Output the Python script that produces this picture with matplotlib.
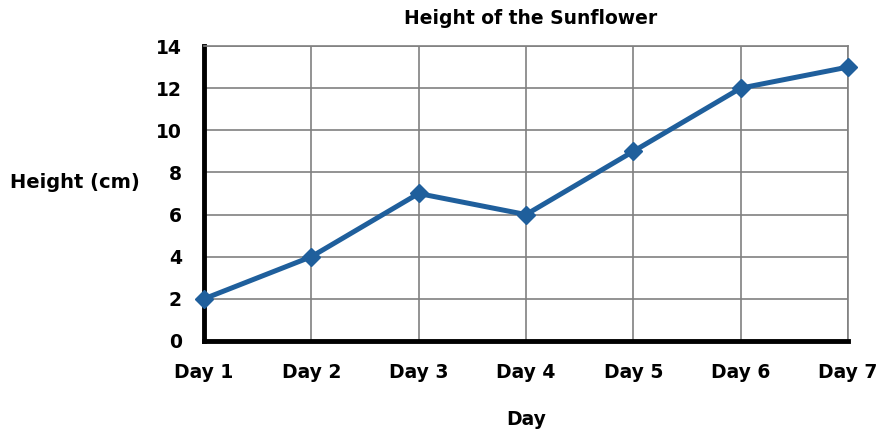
import matplotlib.pyplot as plt

days = ["Day 1", "Day 2", "Day 3", "Day 4", "Day 5", "Day 6", "Day 7"]
heights = [2, 4, 7, 6, 9, 12, 13]
y_ticks = [0, 2, 4, 6, 8, 10, 12, 14]

plt.rcParams['font.family'] = ['DejaVu Sans']
plt.rcParams['font.weight'] = 'bold'

fig = plt.figure(figsize=(8.8, 4.34), dpi=100)
ax = fig.add_axes([0.2318, 0.2143, 0.7318, 0.6797])

x = list(range(len(days)))
ax.plot(x, heights, color='#1f5f9c', linewidth=3.6, marker='D',
        markersize=9, zorder=3, clip_on=False)

ax.set_xlim(0, len(days) - 1)
ax.set_ylim(0, 14)
ax.set_xticks(x)
ax.set_xticklabels(days)
ax.set_yticks(y_ticks)
ax.grid(True, color='#808080', linewidth=1.2)
ax.set_axisbelow(True)

for s in ['top', 'right']:
    ax.spines[s].set_color('#808080')
    ax.spines[s].set_linewidth(1.2)
for s in ['left', 'bottom']:
    ax.spines[s].set_color('black')
    ax.spines[s].set_linewidth(3.5)
    ax.spines[s].set_zorder(2.5)

ax.tick_params(axis='both', length=0, labelsize=13.5)
ax.tick_params(axis='x', pad=16)
ax.tick_params(axis='y', pad=16)
for lbl in ax.get_xticklabels() + ax.get_yticklabels():
    lbl.set_fontweight('bold')

# title placed in figure coords so it sits near the top edge
fig.text(531 / 880, 1 - 18 / 434, "Height of the Sunflower", fontsize=13.5,
         fontweight='bold', ha='center', va='center')
ax.set_xlabel("Day", fontsize=13.5, fontweight='bold', labelpad=20)
fig.text(0.085, 1 - 183 / 434, "Height (cm)", fontsize=14, fontweight='bold',
         ha='center', va='center')

fig.savefig("out.png", dpi=100)
